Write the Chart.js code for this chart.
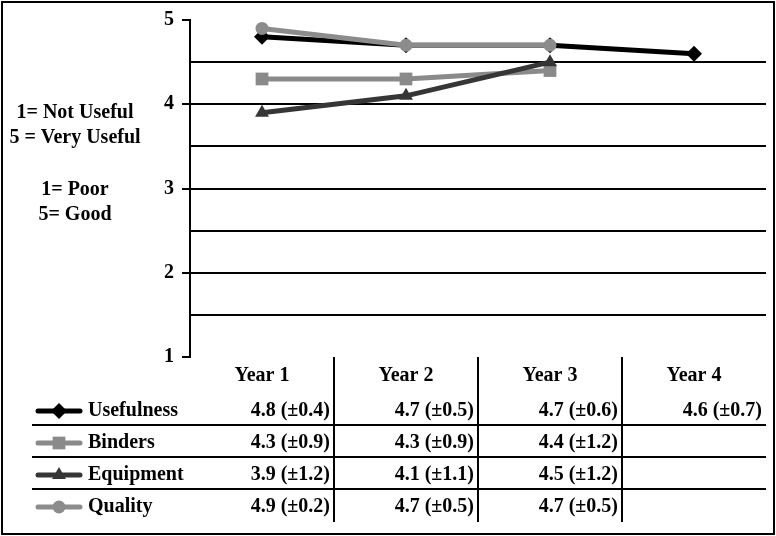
<!DOCTYPE html>
<html>
<head>
<meta charset="utf-8">
<script src="https://cdn.jsdelivr.net/npm/chart.js@4/dist/chart.umd.min.js"></script>
<style>
  html, body { margin: 0; padding: 0; background: #fff; }
  canvas { display: block; }
</style>
</head>
<body>
<canvas id="myChart" width="776" height="536"></canvas>
<script>
// datos
var years = ['Year 1', 'Year 2', 'Year 3', 'Year 4'];
var seriesNames = ['Usefulness', 'Binders', 'Equipment', 'Quality'];
var usefulness = [4.8, 4.7, 4.7, 4.6];
var binders = [4.3, 4.3, 4.4, null];
var equipment = [3.9, 4.1, 4.5, null];
var quality = [4.9, 4.7, 4.7, null];
var usefulnessSD = [0.4, 0.5, 0.6, 0.7];
var bindersSD = [0.9, 0.9, 1.2, null];
var equipmentSD = [1.2, 1.1, 1.2, null];
var qualitySD = [0.2, 0.5, 0.5, null];
var yTicks = [1, 2, 3, 4, 5];
var scaleNotes = ['1= Not Useful', '5 = Very Useful', '', '1= Poor', '5= Good'];

var fuente = 'bold 20px "Liberation Serif", "DejaVu Serif", serif';
var colores = ['#000000', '#8a8a8a', '#363636', '#8c8c8c'];
var estilos = ['rectRot', 'rect', 'triangle', 'circle'];
var radios = [8, 9, 8, 6.5];
var valores = [usefulness, binders, equipment, quality];
var desv = [usefulnessSD, bindersSD, equipmentSD, qualitySD];

function marcador(ctx, estilo, x, y, r, color){
    ctx.save();
    ctx.fillStyle = color;
    ctx.beginPath();
    if(estilo == 'rectRot'){
        ctx.moveTo(x, y - r); ctx.lineTo(x + r, y); ctx.lineTo(x, y + r); ctx.lineTo(x - r, y);
    }else if(estilo == 'rect'){
        var s = r * Math.SQRT1_2;
        ctx.rect(x - s, y - s, 2 * s, 2 * s);
    }else if(estilo == 'triangle'){
        ctx.moveTo(x, y - r);
        ctx.lineTo(x + r * 0.866, y + r * 0.5);
        ctx.lineTo(x - r * 0.866, y + r * 0.5);
    }else{
        ctx.arc(x, y, r, 0, Math.PI * 2);
    }
    ctx.closePath();
    ctx.fill();
    ctx.restore();
}

var tablaPlugin = {
    id: 'tabla',
    afterDraw: function(chart){
        var ctx = chart.ctx;
        var x = chart.scales.x;
        var area = chart.chartArea;
        ctx.save();
        // marco exterior
        ctx.strokeStyle = '#000';
        ctx.lineWidth = 2;
        ctx.strokeRect(2, 2, 772, 532);

        // notas de escala
        ctx.font = fuente;
        ctx.fillStyle = '#000';
        ctx.textAlign = 'center';
        ctx.textBaseline = 'middle';
        var notasY = [113, 138, 163, 190, 215];
        for(var n = 0; n < scaleNotes.length; n++){
            if(scaleNotes[n]) ctx.fillText(scaleNotes[n], 75, notasY[n]);
        }

        var paso = x.getPixelForValue(1) - x.getPixelForValue(0);
        // separadores verticales
        ctx.lineWidth = 2;
        for(var c = 0; c < years.length - 1; c++){
            var bx = Math.round(x.getPixelForValue(c) + paso / 2);
            ctx.beginPath();
            ctx.moveTo(bx, area.bottom);
            ctx.lineTo(bx, 522);
            ctx.stroke();
        }
        // encabezados
        for(var i = 0; i < years.length; i++){
            ctx.fillText(years[i], x.getPixelForValue(i), 376);
        }
        // filas
        var filasY = [411, 443, 475, 507];
        var lineasY = [425, 457, 489];
        ctx.lineWidth = 2;
        for(var l = 0; l < lineasY.length; l++){
            ctx.beginPath();
            ctx.moveTo(32, lineasY[l]);
            ctx.lineTo(area.right, lineasY[l]);
            ctx.stroke();
        }
        for(var s = 0; s < seriesNames.length; s++){
            var fy = filasY[s];
            ctx.save();
            ctx.strokeStyle = colores[s];
            ctx.lineWidth = 5;
            ctx.lineCap = 'round';
            ctx.beginPath();
            ctx.moveTo(38, fy);
            ctx.lineTo(80, fy);
            ctx.stroke();
            ctx.restore();
            marcador(ctx, estilos[s], 59, fy, radios[s], colores[s]);
            ctx.textAlign = 'left';
            ctx.fillStyle = '#000';
            ctx.fillText(seriesNames[s], 88, fy);
            ctx.textAlign = 'right';
            for(var k = 0; k < years.length; k++){
                if(valores[s][k] == null) continue;
                var txt = valores[s][k].toFixed(1) + ' (\u00B1' + desv[s][k].toFixed(1) + ')';
                ctx.fillText(txt, x.getPixelForValue(k) + paso / 2 - 4, fy);
            }
        }
        ctx.restore();
    }
};

var datasets = [];
for(var d = 0; d < seriesNames.length; d++){
    datasets.push({
        label: seriesNames[d],
        data: valores[d],
        borderColor: colores[d],
        backgroundColor: colores[d],
        borderWidth: 5,
        pointStyle: estilos[d],
        pointRadius: radios[d],
        pointBorderWidth: 0,
        pointBackgroundColor: colores[d],
        tension: 0,
        order: [3, 2, 1, 0][d]
    });
}

var grafico = new Chart(document.getElementById('myChart'), {
    type: 'line',
    data: { labels: years, datasets: datasets },
    plugins: [tablaPlugin],
    options: {
        responsive: false,
        animation: false,
        layout: { padding: { left: 0, top: 20, right: 10, bottom: 179 } },
        plugins: { legend: { display: false }, tooltip: { enabled: false } },
        scales: {
            x: { display: false, offset: true },
            y: {
                min: yTicks[0],
                max: yTicks[yTicks.length - 1],
                afterFit: function(scale){ scale.width = 190; },
                border: { display: true, color: '#000', width: 2 },
                grid: {
                    color: function(c){
                        var v = c.tick.value;
                        return (v == 1 || v == 5) ? 'rgba(0,0,0,0)' : '#000';
                    },
                    tickColor: function(c){
                        return c.tick.value % 1 === 0 ? '#000' : 'rgba(0,0,0,0)';
                    },
                    lineWidth: 2,
                    tickLength: 8
                },
                ticks: {
                    stepSize: 0.5,
                    padding: 8,
                    color: '#000',
                    font: { family: '"Liberation Serif", "DejaVu Serif", serif', size: 20, weight: 'bold' },
                    callback: function(v){ return v % 1 === 0 ? v : ''; }
                }
            }
        }
    }
});
</script>
</body>
</html>
